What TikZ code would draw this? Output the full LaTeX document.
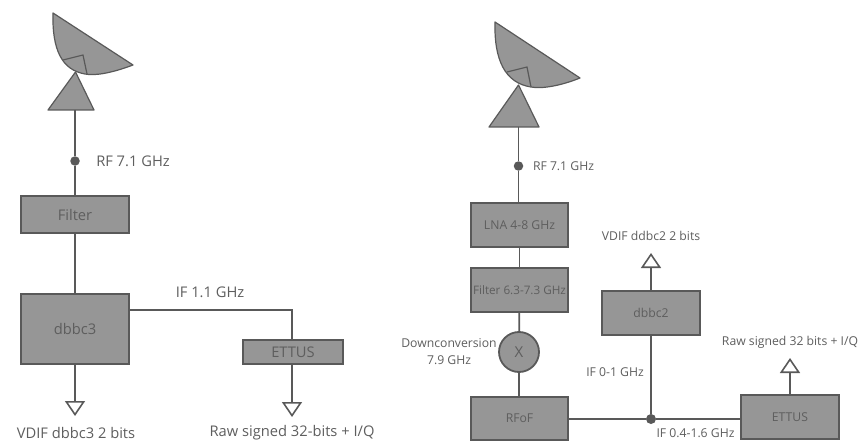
\documentclass[tikz,border=0pt]{standalone}
\usepackage{fontspec}
\setmainfont{Open Sans}
\usepackage{xcolor}
\usetikzlibrary{arrows.meta}
\definecolor{boxfill}{HTML}{969696}
\definecolor{edgegray}{HTML}{595959}
\definecolor{textgray}{HTML}{5E5E5E}

\begin{document}
\begin{tikzpicture}[
    x=1pt,
    y=-1pt,
    font=\fontsize{14.7}{16}\selectfont,
    text=textgray,
    wire/.style={draw=edgegray,line width=1.8pt},
    port/.style={-{Triangle[open,length=15pt,width=20pt,line width=1.6pt]},
                draw=edgegray,line width=1.8pt},
    box/.style={draw=edgegray,fill=boxfill,line width=1.8pt,inner sep=0pt,
                minimum width=#1,anchor=center},
    dishbody/.style={draw=edgegray,fill=boxfill,line width=1.2pt,line join=round},
    junction/.style={circle,fill=edgegray,inner sep=0pt,minimum size=9.5pt},
    small/.style={font=\fontsize{12.2}{17}\selectfont}
]
\useasboundingbox (0,0) rectangle (859,441);

% left chain
\draw[dishbody] (53,13) -- (133,65) .. controls (112,73) and (95,76) .. (85,74)
    .. controls (62,70) and (52,50) .. (53,13) -- cycle;
\draw[dishbody] (63,60) -- (83,55) -- (87,74);
\draw[dishbody] (75.5,72) -- (48,110) -- (94,110) -- cycle;
\coordinate (feedL) at (75,110);

\node[junction] (rfL) at (75,161) {};
\node[box=108pt,minimum height=37pt] (filterL) at (75,214.5) {Filter};
\node[box=108pt,minimum height=70pt] (dbbc3) at (75,329) {dbbc3};
\node[box=100pt,minimum height=24pt] (ettusL) at (293,352) {ETTUS};
\coordinate (vdifL) at (75,416);
\coordinate (rawL) at (292,417);
\coordinate (bendL) at (292,310);

\draw[wire] (feedL) -- (rfL) -- (filterL) -- (dbbc3);
\draw[wire] (dbbc3.east |- bendL) -- (bendL) -- (bendL |- ettusL.north);
\draw[port] (dbbc3.south) -- (vdifL);
\draw[port] (ettusL.south -| rawL) -- (rawL);

\node at (133,161) {RF 7.1 GHz};
\node at (210,292) {IF 1.1 GHz};
\node at (76,433) {VDIF dbbc3 2 bits};
\node at (292,433) {Raw signed 32-bits + I/Q};

% right chain
\draw[dishbody] (495,22) -- (580,78) .. controls (560,86) and (542,89) .. (531,87)
    .. controls (505,83) and (494,60) .. (495,22) -- cycle;
\draw[dishbody] (507,72) -- (527,67) -- (531,87);
\draw[dishbody] (518.5,85) -- (489,127) -- (539,127) -- cycle;
\coordinate (feedR) at (518.5,127);

\node[junction] (rfR) at (518.5,166) {};
\node[box=97pt,minimum height=44pt,small] (lna) at (519.5,225) {LNA 4-8 GHz};
\node[box=97pt,minimum height=44pt,font=\fontsize{11.7}{14}\selectfont] (filterR) at (519.5,290) {Filter 6.3-7.3 GHz};
\node[circle,draw=edgegray,fill=boxfill,line width=1.8pt,minimum size=40pt,inner sep=0pt,
      font=\fontsize{15}{17}\selectfont] (mixer) at (519,352) {X};
\node[box=97pt,minimum height=43pt,small] (rfof) at (519.5,418.5) {RFoF};
\node[box=98pt,minimum height=44pt,small] (dbbc2) at (651,313) {dbbc2};
\node[box=98pt,minimum height=44pt,small] (ettusR) at (790,417) {ETTUS};
\node[junction,minimum size=10pt] (tee) at (651,419) {};
\coordinate (vdifR) at (651,253);
\coordinate (rawR) at (790,358);

\draw[wire] (feedR) -- (rfR) -- (rfR |- lna.north);
\draw[wire] (lna) -- (filterR);
\draw[wire] (filterR) -- (mixer);
\draw[wire] (mixer) -- (mixer |- rfof.north);
\draw[wire] (rfof.east |- tee) -- (tee) -- (tee -| ettusR.west);
\draw[wire] (dbbc2) -- (tee);
\draw[port] (dbbc2.north) -- (vdifR);
\draw[port] (ettusR.north) -- (rawR);

\node[small] at (563.5,166) {RF 7.1 GHz};
\node[small] at (651,236) {VDIF ddbc2 2 bits};
\node[small] at (790,342) {Raw signed 32 bits + I/Q};
\node[small] at (615,372) {IF 0-1 GHz};
\node[small] at (695.5,433) {IF 0.4-1.6 GHz};
\node[small,align=center] at (449,351.5) {Downconversion\\7.9 GHz};

\end{tikzpicture}
\end{document}
